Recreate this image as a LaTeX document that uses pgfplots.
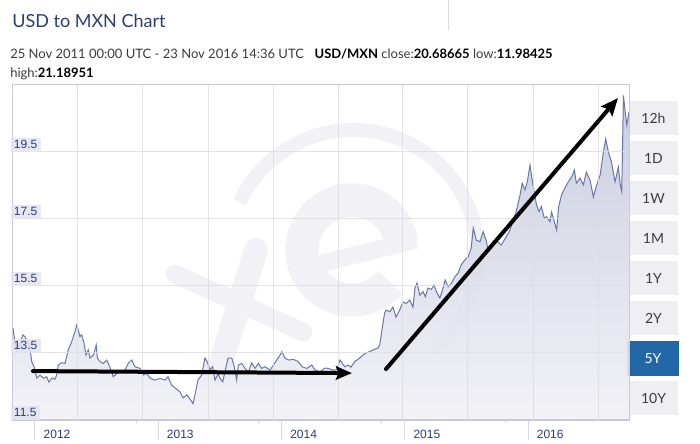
\documentclass[border=0pt]{standalone}
\usepackage{pgfplots}
\pgfplotsset{compat=1.18}
\usepackage{pgfplotstable}
\usepackage{fontspec}
\setmainfont{Liberation Sans}
\newfontfamily\lato{Lato}
\usetikzlibrary{arrows.meta}

\definecolor{titleblue}{HTML}{2C3E6B}
\definecolor{subtext}{HTML}{3A3A3A}
\definecolor{gridgray}{HTML}{DCDCE0}
\definecolor{axisline}{HTML}{C8CADB}
\definecolor{ticklg}{HTML}{D8D8E2}
\definecolor{navy}{HTML}{2B3A7E}
\definecolor{lav}{HTML}{E3E4EF}
\definecolor{linecol}{HTML}{6B76A8}
\definecolor{filltop}{HTML}{C4C8DC}
\definecolor{fillbot}{HTML}{F1F1F6}
\definecolor{btnbg}{HTML}{EFEFF3}
\definecolor{btntext}{HTML}{3C3C3C}
\definecolor{active}{HTML}{2166A5}
\definecolor{wm}{HTML}{F1F1F6}

\pgfplotstableread{
x y
2011.822 14.25
2011.846 13.59
2011.857 13.80
2011.873 13.69
2011.901 14.04
2011.919 13.99
2011.938 13.84
2011.954 13.80
2011.974 13.24
2011.993 13.09
2012.015 12.75
2012.041 12.84
2012.068 12.75
2012.095 12.79
2012.114 12.63
2012.136 12.75
2012.163 12.72
2012.176 12.84
2012.189 13.14
2012.217 13.21
2012.244 13.19
2012.270 13.59
2012.298 13.84
2012.325 14.14
2012.339 14.34
2012.351 14.19
2012.365 13.99
2012.379 14.04
2012.398 13.80
2012.414 13.44
2012.433 13.59
2012.446 13.35
2012.475 13.44
2012.497 13.74
2012.506 13.35
2012.528 13.24
2012.554 13.19
2012.582 13.29
2012.595 13.19
2012.622 12.94
2012.635 12.79
2012.663 12.89
2012.703 12.94
2012.730 12.99
2012.757 13.19
2012.785 13.29
2012.811 13.09
2012.852 13.04
2012.879 12.84
2012.906 12.89
2012.933 12.75
2012.974 12.69
2013.014 12.74
2013.055 12.69
2013.079 12.79
2013.109 12.54
2013.136 12.46
2013.176 12.34
2013.201 12.16
2013.233 12.25
2013.271 12.05
2013.282 11.99
2013.298 12.25
2013.322 12.69
2013.352 12.84
2013.379 13.35
2013.397 13.24
2013.419 12.99
2013.441 13.09
2013.460 12.69
2013.487 12.89
2013.501 12.74
2013.523 12.64
2013.541 12.94
2013.566 13.35
2013.596 13.35
2013.614 13.14
2013.636 12.69
2013.649 13.14
2013.677 13.19
2013.704 13.04
2013.731 12.94
2013.758 13.20
2013.785 13.04
2013.812 13.19
2013.839 13.04
2013.866 13.09
2013.907 12.99
2013.934 13.14
2013.961 13.29
2013.988 13.44
2014.002 13.54
2014.029 13.34
2014.056 13.29
2014.096 13.31
2014.137 13.24
2014.165 13.09
2014.205 13.04
2014.245 13.14
2014.271 12.99
2014.312 12.94
2014.352 13.05
2014.379 13.04
2014.420 12.99
2014.447 13.00
2014.474 13.29
2014.512 13.09
2014.539 13.14
2014.563 13.08
2014.593 13.24
2014.634 13.35
2014.661 13.44
2014.685 13.50
2014.715 13.54
2014.742 13.59
2014.782 13.65
2014.796 13.74
2014.806 13.98
2014.823 14.40
2014.836 14.69
2014.847 14.78
2014.877 14.73
2014.904 14.87
2014.928 14.57
2014.958 14.78
2014.985 15.02
2015.012 14.98
2015.040 15.08
2015.066 14.87
2015.082 15.44
2015.099 15.59
2015.121 15.23
2015.148 15.33
2015.166 15.18
2015.188 15.44
2015.215 15.40
2015.237 15.53
2015.256 15.33
2015.284 15.14
2015.310 15.44
2015.327 15.68
2015.351 15.48
2015.378 15.58
2015.406 15.78
2015.432 15.88
2015.457 16.13
2015.487 16.28
2015.514 16.37
2015.538 16.63
2015.555 17.23
2015.579 16.87
2015.609 16.82
2015.636 17.12
2015.663 16.82
2015.676 16.52
2015.703 16.63
2015.717 16.82
2015.757 16.81
2015.781 16.72
2015.806 16.87
2015.822 16.96
2015.852 17.17
2015.879 17.47
2015.903 17.72
2015.933 18.19
2015.952 18.57
2015.974 18.37
2015.993 18.61
2016.015 19.11
2016.028 18.78
2016.050 18.28
2016.068 17.92
2016.088 17.72
2016.107 17.87
2016.131 17.53
2016.150 17.57
2016.177 17.42
2016.190 17.71
2016.204 17.53
2016.231 17.17
2016.247 17.86
2016.271 18.22
2016.299 18.43
2016.326 18.61
2016.353 18.76
2016.375 18.96
2016.391 18.57
2016.421 18.72
2016.448 18.52
2016.472 18.90
2016.502 18.66
2016.529 18.16
2016.556 18.52
2016.584 18.81
2016.610 19.50
2016.629 19.89
2016.651 19.50
2016.675 19.21
2016.705 18.61
2016.732 19.05
2016.746 18.55
2016.759 18.32
2016.773 21.19
2016.787 20.70
2016.800 20.31
2016.818 20.69
}\usdmxn

\begin{document}
\begin{tikzpicture}
\useasboundingbox (0,0) rectangle (525pt,332.25pt);
\begin{scope}[x=0.75pt,y=-0.75pt,shift={(0pt,332.25pt)}]
  % watermark (xe logo, very faint)
  \draw[wm, line width=10.5pt] (353,255) ++(155:93.75pt) arc[start angle=155, end angle=-50, radius=93.75pt];
  \draw[wm, line width=25pt] (352,250) ++(8:37.5pt) arc[start angle=8, end angle=320, radius=37.5pt];
  \draw[wm, line width=13pt] (318,264) -- (416,240);
  \draw[wm, line width=14pt, line cap=round] (175,274) -- (303,332);
  \draw[wm, line width=18pt, line cap=round] (256,250) -- (218,372);
  % header
  \node[anchor=base west, inner sep=0, text=titleblue, font=\lato\fontsize{13.5}{16}\selectfont] at (12,28) {USD to MXN Chart};
  \draw[draw=gridgray, line width=0.75pt] (448,0) -- (448,30);
  \node[anchor=base west, inner sep=0, text=subtext, font=\lato\fontsize{9.75}{12}\selectfont] at (10,59)
    {25 Nov 2011 00:00 UTC - 23 Nov 2016 14:36 UTC\hspace{8pt}\textcolor{black}{\textbf{USD/MXN}} close:\textcolor{black}{\textbf{20.68665}} low:\textcolor{black}{\textbf{11.98425}}};
  \node[anchor=base west, inner sep=0, text=subtext, font=\lato\fontsize{9.75}{12}\selectfont] at (10,78)
    {high:\textcolor{black}{\textbf{21.18951}}};
  % range buttons
  \foreach \lab [count=\i from 0] in {12h,1D,1W,1M,1Y,2Y} {
    \fill[btnbg] (629,101+40*\i) rectangle (678,135+40*\i);
    \node[text=btntext, font=\lato\fontsize{10.5}{12}\selectfont] at (653.5,118+40*\i) {\lab};
  }
  \fill[active] (627,341) rectangle (679,376);
  \node[text=white, font=\lato\fontsize{10.5}{12}\selectfont] at (653,358.5) {5Y};
  \fill[btnbg] (629,381) rectangle (678,415);
  \node[text=btntext, font=\lato\fontsize{10.5}{12}\selectfont] at (653.5,398) {10Y};
\end{scope}

\begin{axis}[
  axis on top,
  at={(9.75pt,17.25pt)}, anchor=south west,
  width=462pt, height=251.25pt, scale only axis,
  xmin=2011.822, xmax=2016.818, ymin=11.5, ymax=21.5,
  axis line style={draw=axisline, line width=0.75pt},
  xtick={2012,2013,2014,2015,2016},
  xticklabels={2012,2013,2014,2015,2016},
  minor xtick={2012.827,2013.817,2014.814,2015.820},
  xtick pos=bottom, tick align=outside,
  major tick length=15pt, minor tick length=2.5pt,
  xtick style={draw=ticklg, line width=0.75pt},
  xticklabel style={anchor=north west, xshift=3pt, yshift=11pt, text=navy, font=\fontsize{9}{10}\selectfont},
  ytick={11.5,13.5,15.5,17.5,19.5},
  yticklabels={11.5,13.5,15.5,17.5,19.5},
  ytick style={draw=none},
  ymajorgrids,
  grid style={draw=gridgray, line width=0.75pt, opacity=0.8},
  yticklabel style={anchor=south west, fill=lav, fill opacity=0.85, text opacity=1, text=navy, inner xsep=2.5pt, inner ysep=2pt, xshift=13pt, font=\fontsize{9}{10}\selectfont},
  extra x ticks={2012.349,2012.876,2013.404,2013.931,2014.458,2014.985,2015.512,2016.040,2016.567},
  extra x tick labels={},
  extra x tick style={xmajorgrids=true, major tick length=0pt},
  after end axis/.append code={
    \draw[black, line width=3pt, line cap=round, -{Stealth[length=12pt,width=10pt,inset=2pt]}] (axis cs:2011.984,12.96) -- (axis cs:2014.571,12.90);
    \draw[black, line width=3pt, line cap=round, -{Stealth[length=13pt,width=11pt,inset=2pt]}] (axis cs:2014.847,13.02) -- (axis cs:2016.729,21.11);
  },
]
\addplot[draw=none, top color=filltop, bottom color=fillbot, fill opacity=0.9] table[x=x,y=y] {\usdmxn} \closedcycle;
\addplot[draw=linecol, line width=0.75pt, mark=none] table[x=x,y=y] {\usdmxn};
\end{axis}
\end{tikzpicture}
\end{document}
